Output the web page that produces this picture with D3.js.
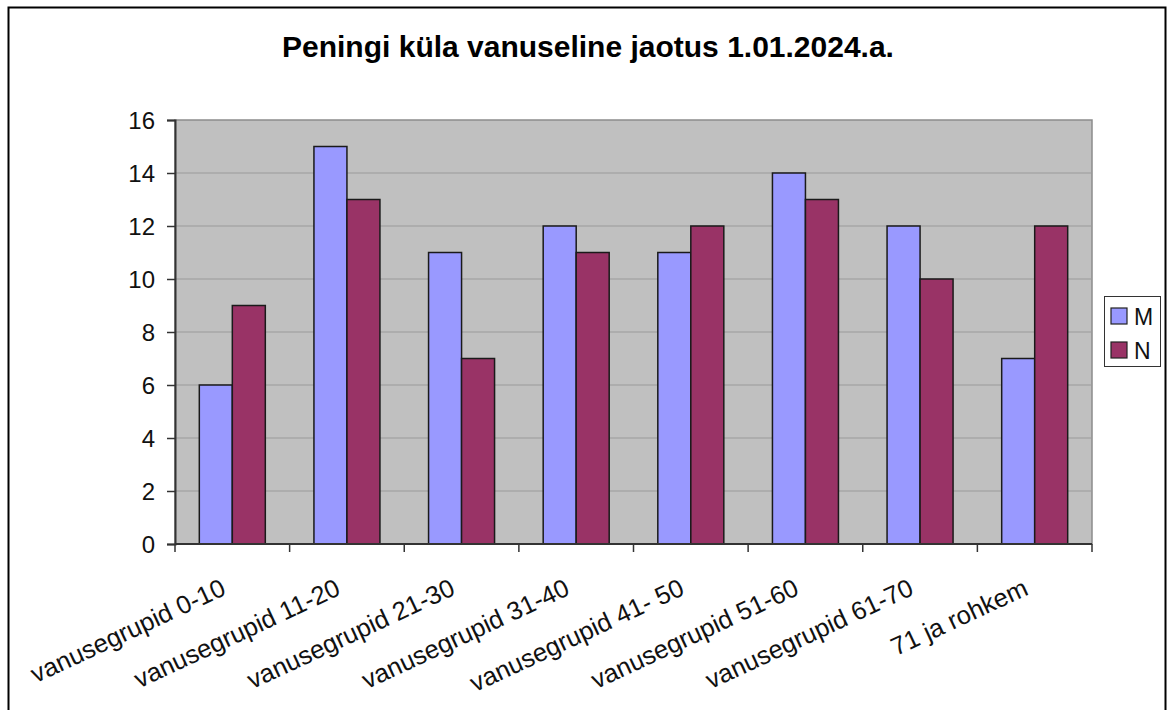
<!DOCTYPE html>
<html>
<head>
<meta charset="utf-8">
<script src="https://cdn.jsdelivr.net/npm/d3@7"></script>
<style>
  body { margin: 0; background: #fff; }
  svg text { font-family: Arial, "Liberation Sans", sans-serif; }
</style>
</head>
<body>
<div class="canvas"></div>
<script>
// data
const title = 'Peningi küla vanuseline jaotus 1.01.2024.a.';
const categories = ['vanusegrupid 0-10', 'vanusegrupid 11-20', 'vanusegrupid 21-30',
  'vanusegrupid 31-40', 'vanusegrupid 41- 50', 'vanusegrupid 51-60',
  'vanusegrupid 61-70', '71 ja rohkem'];
const seriesNames = ['M', 'N'];
const valuesM = [6, 15, 11, 12, 11, 14, 12, 7];
const valuesN = [9, 13, 7, 11, 12, 13, 10, 12];
const yTicks = [0, 2, 4, 6, 8, 10, 12, 14, 16];
const colors = ['#9999FF', '#993366'];

const series = [valuesM, valuesN];

// layout
const W = 1168, H = 710;
const plot = { left: 175, top: 120, right: 1092, bottom: 544 };

const svg = d3.select('.canvas')
              .append('svg')
              .attr('width', W)
              .attr('height', H);

// outer chart frame
svg.append('rect')
   .attr('x', 8.5).attr('y', 7.5)
   .attr('width', 1157).attr('height', 720)
   .attr('fill', '#fff')
   .attr('stroke', '#000')
   .attr('stroke-width', 2);

svg.append('text')
   .attr('x', 588).attr('y', 57)
   .attr('text-anchor', 'middle')
   .attr('font-size', 30)
   .attr('font-weight', 'bold')
   .text(title);

// scales
const x = d3.scaleBand()
            .domain(categories)
            .range([plot.left, plot.right]);

const xInner = d3.scaleBand()
                 .domain(seriesNames)
                 .range([0, 66]);

const y = d3.scaleLinear()
            .domain([0, 16])
            .range([plot.bottom, plot.top]);

// plot background
svg.append('rect')
   .attr('x', plot.left).attr('y', plot.top)
   .attr('width', plot.right - plot.left)
   .attr('height', plot.bottom - plot.top)
   .attr('fill', '#C0C0C0')
   .attr('stroke', '#8c8c8c')
   .attr('stroke-width', 1.5);

// gridlines
svg.append('g')
   .selectAll('line')
   .data(yTicks.slice(1, -1))
   .enter()
   .append('line')
   .attr('x1', plot.left).attr('x2', plot.right)
   .attr('y1', d => y(d)).attr('y2', d => y(d))
   .attr('stroke', '#9a9a9a')
   .attr('stroke-width', 1);

// bars
const groups = svg.append('g')
                  .selectAll('g')
                  .data(categories)
                  .enter()
                  .append('g')
                  .attr('transform', d => `translate(${x(d) + x.bandwidth() / 2 - 33}, 0)`);

groups.selectAll('rect')
      .data((d, i) => seriesNames.map((s, j) => ({ s, v: series[j][i], c: colors[j] })))
      .enter()
      .append('rect')
      .attr('x', d => xInner(d.s))
      .attr('y', d => y(d.v))
      .attr('width', xInner.bandwidth())
      .attr('height', d => y(0) - y(d.v))
      .attr('fill', d => d.c)
      .attr('stroke', '#1a1a1a')
      .attr('stroke-width', 1.5);

// y axis
const yAxis = svg.append('g')
                 .attr('transform', `translate(${plot.left}, 0)`)
                 .call(d3.axisLeft(y).tickValues(yTicks).tickSize(8).tickPadding(12));
yAxis.select('.domain').attr('stroke', '#333').attr('stroke-width', 2);
yAxis.selectAll('.tick line').attr('stroke', '#333').attr('stroke-width', 1.5);
yAxis.selectAll('text')
     .attr('font-size', 24)
     .attr('fill', '#111')
     .attr('font-family', 'Arial, "Liberation Sans", sans-serif')
     .attr('dy', '0.36em');

// x axis: ticks on category boundaries
const boundaries = categories.map(c => x(c)).concat([plot.right]);
svg.append('line')
   .attr('x1', plot.left).attr('x2', plot.right)
   .attr('y1', plot.bottom).attr('y2', plot.bottom)
   .attr('stroke', '#333').attr('stroke-width', 2);
svg.append('g')
   .selectAll('line')
   .data(boundaries)
   .enter()
   .append('line')
   .attr('x1', d => d).attr('x2', d => d)
   .attr('y1', plot.bottom).attr('y2', plot.bottom + 8)
   .attr('stroke', '#333').attr('stroke-width', 1.5);

svg.append('g')
   .selectAll('text')
   .data(categories)
   .enter()
   .append('text')
   .attr('transform', d => `translate(${x(d) + x.bandwidth() / 2 - 5}, 594) rotate(-25)`)
   .attr('text-anchor', 'end')
   .attr('font-size', 25.5)
   .attr('fill', '#111')
   .text(d => d);

// legend
const legend = svg.append('g');
legend.append('rect')
      .attr('x', 1104.5).attr('y', 296.5)
      .attr('width', 56).attr('height', 70)
      .attr('fill', '#fff')
      .attr('stroke', '#333').attr('stroke-width', 1);

const items = legend.selectAll('g')
                    .data(seriesNames)
                    .enter()
                    .append('g')
                    .attr('transform', (d, i) => `translate(1111, ${308 + i * 34})`);
items.append('rect')
     .attr('width', 16).attr('height', 16)
     .attr('fill', (d, i) => colors[i])
     .attr('stroke', '#222').attr('stroke-width', 1.2);
items.append('text')
     .attr('x', 23).attr('y', 17)
     .attr('font-size', 23)
     .attr('fill', '#111')
     .text(d => d);
</script>
</body>
</html>
